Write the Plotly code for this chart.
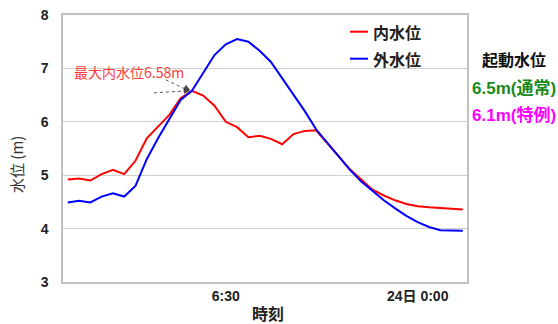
import plotly.graph_objects as go

# ---- data (hourly readings) ----
hours = list(range(36))
inner_level = [4.92, 4.94, 4.90, 5.02, 5.10, 5.02, 5.27, 5.69, 5.91, 6.13, 6.44, 6.58,
               6.49, 6.30, 6.00, 5.90, 5.71, 5.74, 5.68, 5.58, 5.77, 5.83, 5.84,
               5.60, 5.35, 5.11, 4.92, 4.73, 4.62, 4.53, 4.46, 4.42, 4.40, 4.39, 4.38, 4.36]
outer_level = [4.49, 4.52, 4.49, 4.60, 4.66, 4.60, 4.80, 5.30, 5.69, 6.05, 6.41, 6.58,
               6.92, 7.25, 7.45, 7.55, 7.50, 7.33, 7.12, 6.82, 6.51, 6.20, 5.86,
               5.60, 5.35, 5.10, 4.88, 4.70, 4.53, 4.38, 4.24, 4.12, 4.03, 3.97, 3.96, 3.96]
series_names = ["内水位", "外水位"]
series_colors = ["#ff0000", "#0000ff"]
tick_positions = [14, 31]
tick_labels = ["6:30", "24日 0:00"]
peak_index = 11
peak_value = 6.58

FONT = "Liberation Sans, Arial, Noto Sans CJK JP, sans-serif"
JFONT = "Noto Sans CJK JP, Liberation Sans, sans-serif"

W, H = 558, 324
L, R, T, B = 63, 91, 15, 42
pw, ph = W - L - R, H - T - B

def px(x):
    return (x - L) / pw

def py(y):
    return 1 - (y - T) / ph

fig = go.Figure()
for vals, name, col in zip([inner_level, outer_level], series_names, series_colors):
    fig.add_trace(go.Scatter(x=hours, y=vals, mode="lines", name=name,
                             line=dict(color=col, width=2), showlegend=False))

# legend drawn by hand (short line samples)
for k, (name, col) in enumerate(zip(series_names, series_colors)):
    yy = 31.7 + 27 * k
    fig.add_shape(type="line", xref="paper", yref="paper",
                  x0=px(350), x1=px(368), y0=py(yy), y1=py(yy),
                  line=dict(color=col, width=2))
    fig.add_annotation(x=px(371), y=py(yy), xref="paper", yref="paper", text=name,
                       showarrow=False, xanchor="left", yanchor="middle",
                       font=dict(family=JFONT, size=16, color="#222222", weight="bold"))

# dotted leader lines toward the peak
for (dx0, dy0) in [(-38, 2), (-26, -11)]:
    fig.add_shape(type="line", xref="x", yref="y", xsizemode="pixel", ysizemode="pixel",
                  xanchor=peak_index, yanchor=peak_value,
                  x0=dx0, y0=-dy0, x1=-3, y1=0,
                  line=dict(color="#555555", width=1, dash="dot"))
for (ax, ay) in [(-10, 0), (-9, -4)]:
    fig.add_annotation(x=peak_index, y=peak_value, ax=ax, ay=ay, text="",
                       showarrow=True, arrowhead=2, arrowsize=1.2, arrowwidth=1,
                       arrowcolor="#444444", standoff=2)

fig.add_annotation(x=0.42, y=6.93, xref="x", yref="y", text="最大内水位6.58m",
                   showarrow=False, xanchor="left", yanchor="middle",
                   font=dict(family=JFONT, size=14, color="#ff3b3b"))

# right-side labels
fig.add_annotation(x=px(514), y=py(58.7), xref="paper", yref="paper", text="起動水位",
                   showarrow=False, xanchor="center", yanchor="middle",
                   font=dict(family=JFONT, size=16, color="#111111", weight="bold"))
fig.add_annotation(x=px(470), y=py(88.7), xref="paper", yref="paper", text="6.5m(通常)",
                   showarrow=False, xanchor="left", yanchor="middle",
                   font=dict(family=FONT, size=17, color="#1a8a1a", weight="bold"))
fig.add_annotation(x=px(470), y=py(115), xref="paper", yref="paper", text="6.1m(特例)",
                   showarrow=False, xanchor="left", yanchor="middle",
                   font=dict(family=FONT, size=17, color="#ff00ff", weight="bold"))

# axis titles
fig.add_annotation(x=px(16), y=py(165), xref="paper", yref="paper", text="水位 (m)",
                   textangle=-90, showarrow=False, xanchor="center", yanchor="middle",
                   font=dict(family=JFONT, size=15, color="#333333"))
fig.add_annotation(x=px(268), y=py(313), xref="paper", yref="paper", text="時刻",
                   showarrow=False, xanchor="center", yanchor="middle",
                   font=dict(family=JFONT, size=16, color="#222222", weight="bold"))

fig.update_layout(
    width=W, height=H,
    margin=dict(l=L, r=R, t=T, b=B, autoexpand=False),
    plot_bgcolor="white", paper_bgcolor="white",
    font=dict(family=FONT, color="#222222"),
    showlegend=False,
    xaxis=dict(range=[-0.42, 35.37], tickvals=tick_positions, ticktext=tick_labels,
               automargin=False,
               showgrid=False, zeroline=False, showline=True, mirror=True,
               linecolor="#c0c0c0", linewidth=1.5, ticks="",
               tickfont=dict(family=FONT, size=14, color="#222222", weight="bold")),
    yaxis=dict(range=[3, 8], dtick=1, showgrid=True, gridcolor="#d0d0d0", gridwidth=1,
               automargin=False,
               zeroline=False, showline=True, mirror=True, linecolor="#c0c0c0", linewidth=1.5,
               ticks="", ticklabelstandoff=10,
               tickfont=dict(family=FONT, size=14, color="#222222", weight="bold")),
)

fig.write_html("out.html", config={"displayModeBar": False},
               post_script="document.body.style.margin='0';document.body.style.overflow='hidden';")
